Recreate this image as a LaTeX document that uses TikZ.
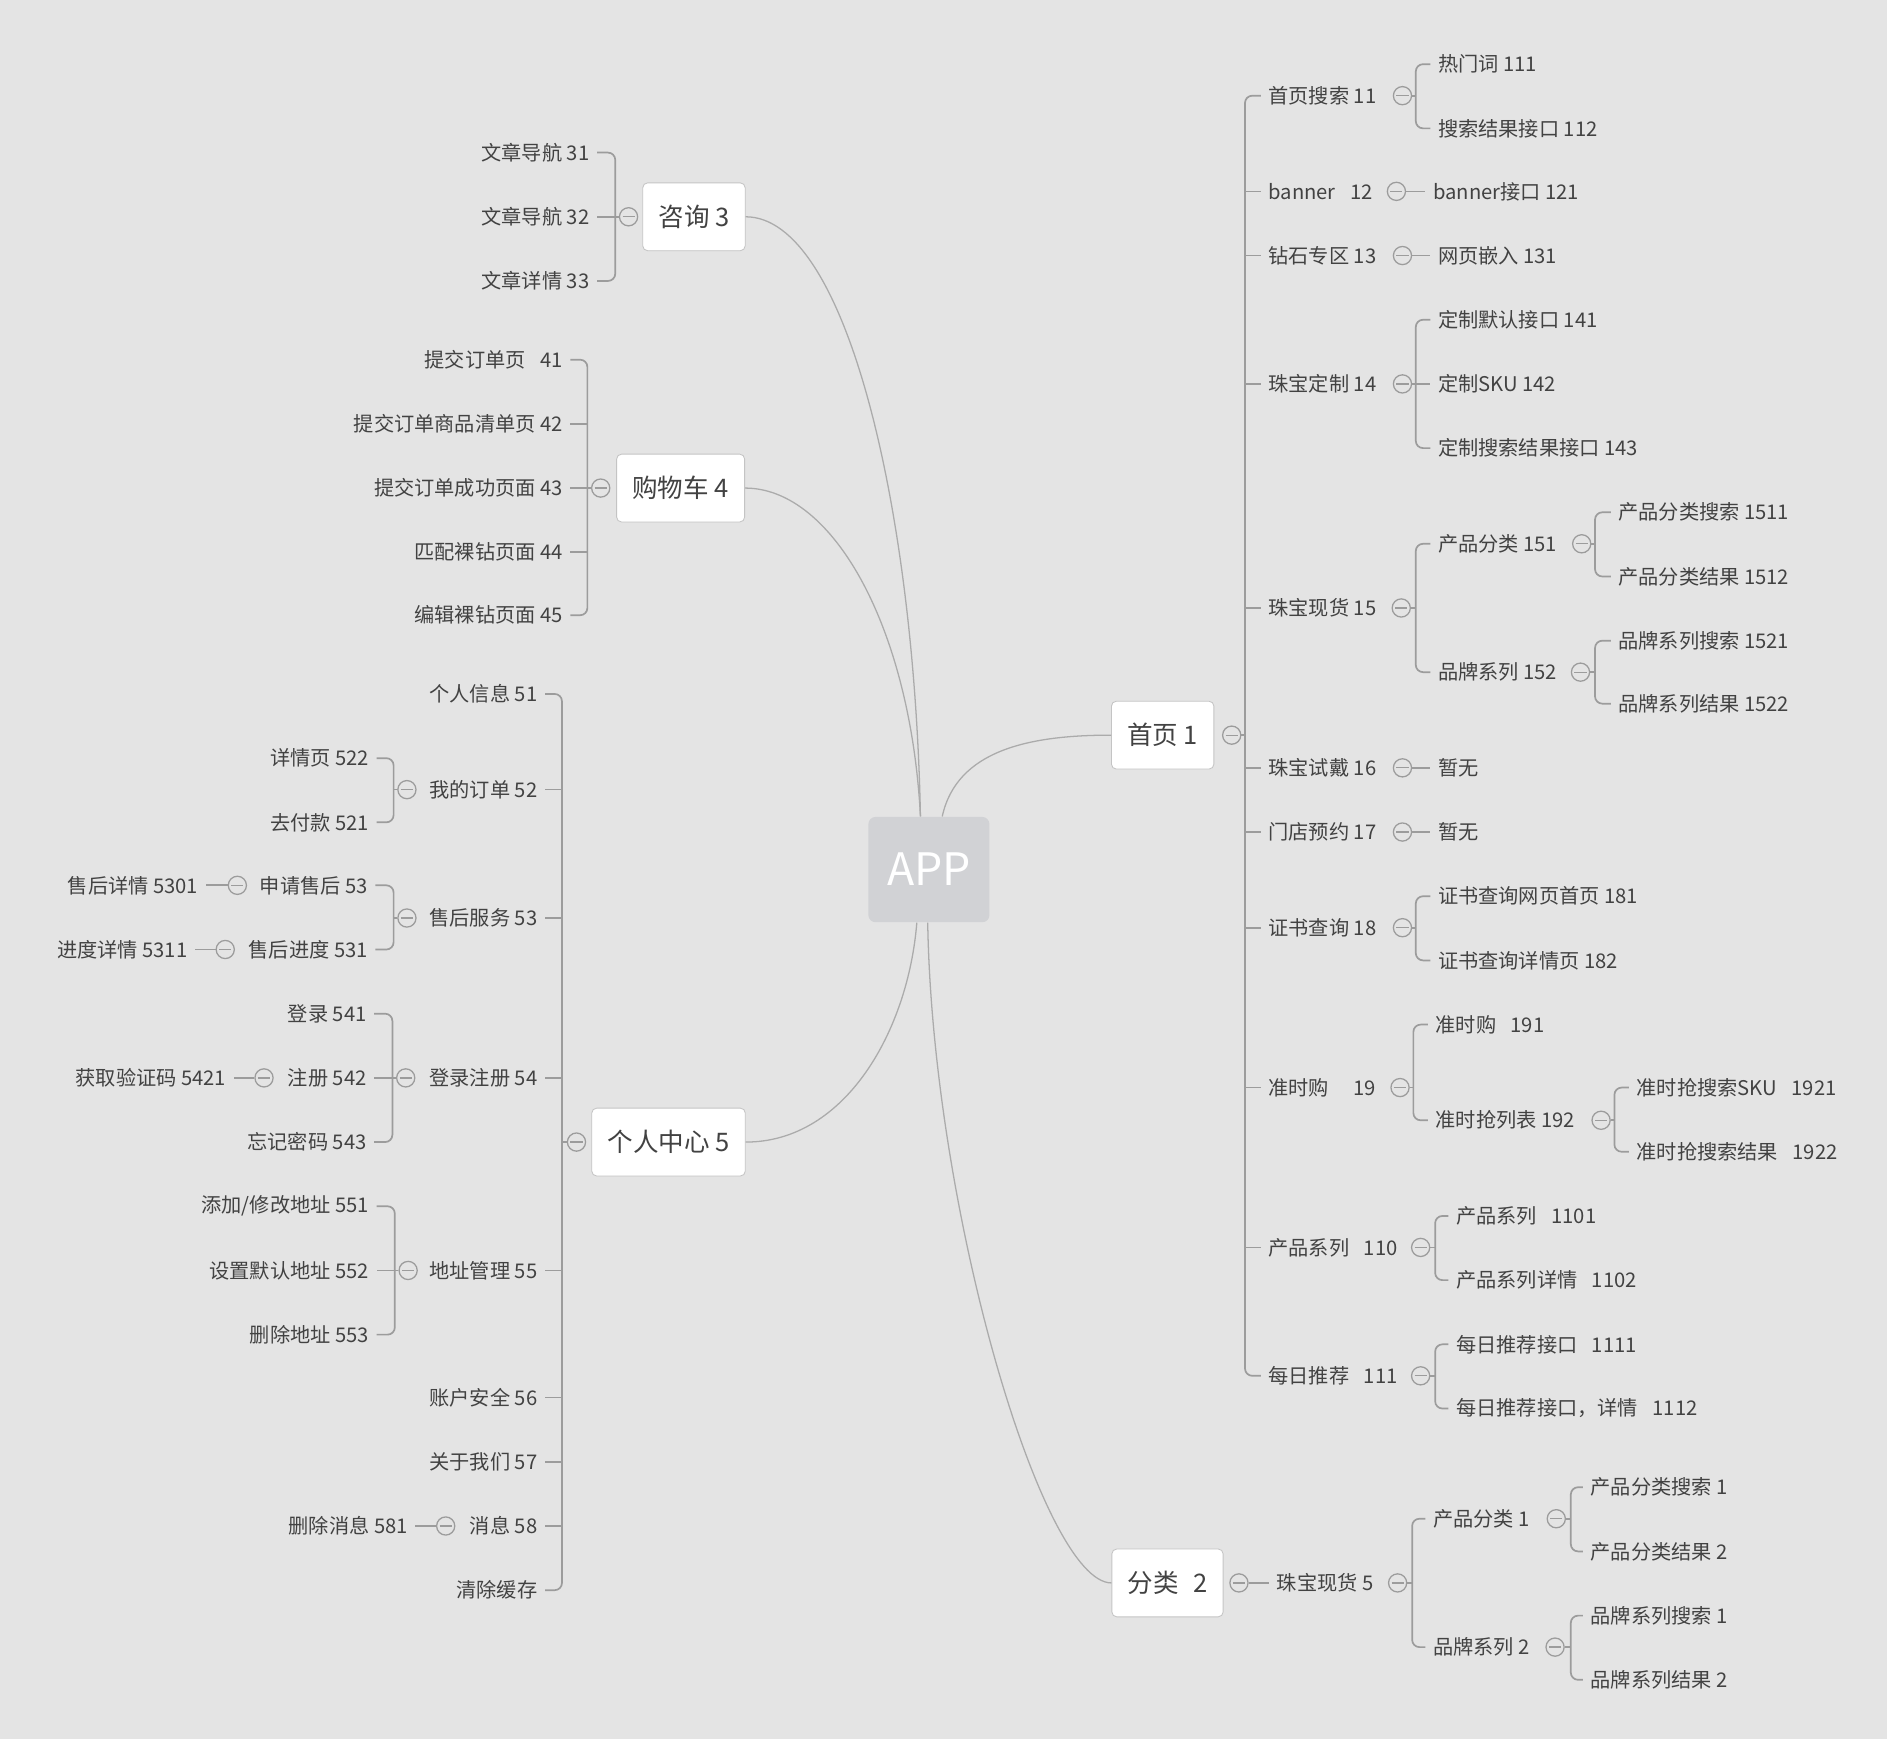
\documentclass[tikz,border=0pt]{standalone}
\usepackage{fontspec}
\setmainfont{Noto Sans CJK SC}
\usepackage{xcolor}
\usepackage{tikz}
\usetikzlibrary{calc}

\definecolor{bg}{HTML}{E4E4E4}
\definecolor{ink}{HTML}{424242}
\definecolor{wire}{HTML}{9C9C9C}
\definecolor{appgray}{HTML}{D1D2D5}
\newcommand{\wsp}{\hspace{0.24cm}}

\begin{document}
\begin{tikzpicture}[x=0.02cm, y=-0.02cm,
        leaf/.style={text=ink, font=\fontsize{9.5}{11}\selectfont, inner xsep=0.12cm, inner ysep=0.05cm},
        topic/.style={draw=wire!60, fill=white, rounded corners=0.08cm, text=ink,
            font=\fontsize{12}{14}\selectfont, minimum height=1.12cm, inner xsep=0.26cm},
        root/.style={fill=appgray, rounded corners=0.12cm, text=white,
            font=\fontsize{21}{24}\selectfont, minimum width=2cm, minimum height=1.74cm},
        fold/.style={circle, draw=wire, line width=0.6pt, minimum size=0.3cm, inner sep=0pt,
            path picture={\draw[wire, line width=0.6pt]
              ([xshift=-0.1cm]path picture bounding box.center) -- ([xshift=0.1cm]path picture bounding box.center);}},
        link/.style={draw=wire, line width=0.8pt},
        bracket/.style={link, rounded corners=0.12cm},
        curve/.style={draw=wire!85, line width=0.6pt}]
    \useasboundingbox (0,0) rectangle (1568,1446);
    \fill[white] (0,0) rectangle (1568,1446);
    \fill[bg] (0,0) rectangle (1558,1436);

    % centre and main topics
    \node[root] (app) at (767,718) {APP};
    \node[topic] (t1) at (960,607) {首页 1};
    \node[topic] (t2) at (964,1307) {分类\wsp2};
    \node[topic] (t3) at (573,179) {咨询 3};
    \node[topic] (t4) at (562,403) {购物车 4};
    \node[topic] (t5) at (552,943) {个人中心 5};

    \draw[curve] (t3.east) .. controls +(83,0) and +(-5,-255) .. ($(app.north)+(-7,0)$);
    \draw[curve] (t4.east) .. controls +(73,0) and +(-8,-155) .. ($(app.north)+(-7,0)$);
    \draw[curve] (t5.east) .. controls +(83,0) and +(-7,88) .. ($(app.south)+(-10,0)$);
    \draw[curve] (t1.west) .. controls +(-67,0) and +(12,-55) .. ($(app.north)+(11,0)$);
    \draw[curve] (t2.west) .. controls +(-57,0) and +(4,238) .. ($(app.south)+(-1,0)$);

    % 首页 1
    \node[fold] (f1) at (1017,607) {};
    \coordinate (s1) at (1028,607);
    \node[leaf, anchor=west] (p11) at (1041,79) {首页搜索 11};
    \node[leaf, anchor=west] (p12) at (1041,158) {banner\wsp12};
    \node[leaf, anchor=west] (p13) at (1041,211) {钻石专区 13};
    \node[leaf, anchor=west] (p14) at (1041,317) {珠宝定制 14};
    \node[leaf, anchor=west] (p15) at (1041,502) {珠宝现货 15};
    \node[leaf, anchor=west] (p16) at (1041,634) {珠宝试戴 16};
    \node[leaf, anchor=west] (p17) at (1041,687) {门店预约 17};
    \node[leaf, anchor=west] (p18) at (1041,766) {证书查询 18};
    \node[leaf, anchor=west] (p19) at (1041,898) {准时购\hspace{0.4cm}19};
    \node[leaf, anchor=west] (p110) at (1041,1030) {产品系列\wsp110};
    \node[leaf, anchor=west] (p111) at (1041,1136) {每日推荐\wsp111};
    \draw[link] (f1) -- (s1);
    \draw[bracket] (p11.west) -| (s1) |- (p111.west);
    \foreach \n in {p12,p13,p14,p15,p16,p17,p18,p19,p110}
        \draw[link] (\n.west) -- (\n.west -| s1);

    \node[fold] (fp11) at (1158,79) {};
    \coordinate (sp11) at (1169,79);
    \node[leaf, anchor=west] (q111) at (1181,53) {热门词 111};
    \node[leaf, anchor=west] (q112) at (1181,106) {搜索结果接口 112};
    \draw[link] (fp11) -- (sp11);
    \draw[bracket] (q111.west) -| (sp11) |- (q112.west);

    \node[fold] (fp12) at (1153,158) {};
    \node[leaf, anchor=west] (q121) at (1177,158) {banner接口 121};
    \draw[link] (fp12) -- (q121);

    \node[fold] (fp13) at (1158,211) {};
    \node[leaf, anchor=west] (q131) at (1181,211) {网页嵌入 131};
    \draw[link] (fp13) -- (q131);

    \node[fold] (fp14) at (1158,317) {};
    \coordinate (sp14) at (1169,317);
    \node[leaf, anchor=west] (q141) at (1181,264) {定制默认接口 141};
    \node[leaf, anchor=west] (q142) at (1181,317) {定制SKU 142};
    \node[leaf, anchor=west] (q143) at (1181,370) {定制搜索结果接口 143};
    \draw[link] (fp14) -- (q142);
    \draw[bracket] (q141.west) -| (sp14) |- (q143.west);

    \node[fold] (fp15) at (1157,502) {};
    \coordinate (sp15) at (1169,502);
    \node[leaf, anchor=west] (q151) at (1181,449) {产品分类 151};
    \node[leaf, anchor=west] (q152) at (1181,555) {品牌系列 152};
    \draw[link] (fp15) -- (sp15);
    \draw[bracket] (q151.west) -| (sp15) |- (q152.west);

    \node[fold] (fq151) at (1306,449) {};
    \coordinate (sq151) at (1317,449);
    \node[leaf, anchor=west] (r1511) at (1330,423) {产品分类搜索 1511};
    \node[leaf, anchor=west] (r1512) at (1330,476) {产品分类结果 1512};
    \draw[link] (fq151) -- (sq151);
    \draw[bracket] (r1511.west) -| (sq151) |- (r1512.west);

    \node[fold] (fq152) at (1305,555) {};
    \coordinate (sq152) at (1317,555);
    \node[leaf, anchor=west] (r1521) at (1330,529) {品牌系列搜索 1521};
    \node[leaf, anchor=west] (r1522) at (1330,581) {品牌系列结果 1522};
    \draw[link] (fq152) -- (sq152);
    \draw[bracket] (r1521.west) -| (sq152) |- (r1522.west);

    \node[fold] (fp16) at (1158,634) {};
    \node[leaf, anchor=west] (q16) at (1181,634) {暂无};
    \draw[link] (fp16) -- (q16);

    \node[fold] (fp17) at (1158,687) {};
    \node[leaf, anchor=west] (q17) at (1181,687) {暂无};
    \draw[link] (fp17) -- (q17);

    \node[fold] (fp18) at (1158,766) {};
    \coordinate (sp18) at (1169,766);
    \node[leaf, anchor=west] (q181) at (1181,740) {证书查询网页首页 181};
    \node[leaf, anchor=west] (q182) at (1181,793) {证书查询详情页 182};
    \draw[link] (fp18) -- (sp18);
    \draw[bracket] (q181.west) -| (sp18) |- (q182.west);

    \node[fold] (fp19) at (1156,898) {};
    \coordinate (sp19) at (1167,898);
    \node[leaf, anchor=west] (q191) at (1179,846) {准时购\wsp191};
    \node[leaf, anchor=west] (q192) at (1179,925) {准时抢列表 192};
    \draw[link] (fp19) -- (sp19);
    \draw[bracket] (q191.west) -| (sp19) |- (q192.west);

    \node[fold] (fq192) at (1322,925) {};
    \coordinate (sq192) at (1333,925);
    \node[leaf, anchor=west] (r1921) at (1345,898) {准时抢搜索SKU\wsp1921};
    \node[leaf, anchor=west] (r1922) at (1345,951) {准时抢搜索结果\wsp1922};
    \draw[link] (fq192) -- (sq192);
    \draw[bracket] (r1921.west) -| (sq192) |- (r1922.west);

    \node[fold] (fp110) at (1173,1030) {};
    \coordinate (sp110) at (1185,1030);
    \node[leaf, anchor=west] (q1101) at (1196,1004) {产品系列\wsp1101};
    \node[leaf, anchor=west] (q1102) at (1196,1057) {产品系列详情\wsp1102};
    \draw[link] (fp110) -- (sp110);
    \draw[bracket] (q1101.west) -| (sp110) |- (q1102.west);

    \node[fold] (fp111) at (1173,1136) {};
    \coordinate (sp111) at (1185,1136);
    \node[leaf, anchor=west] (q1111) at (1196,1110) {每日推荐接口\wsp1111};
    \node[leaf, anchor=west] (q1112) at (1196,1163) {每日推荐接口，详情\wsp1112};
    \draw[link] (fp111) -- (sp111);
    \draw[bracket] (q1111.west) -| (sp111) |- (q1112.west);

    % 分类 2
    \node[fold] (f2) at (1023,1307) {};
    \node[leaf, anchor=west] (c5) at (1048,1307) {珠宝现货 5};
    \draw[link] (f2) -- (c5);
    \node[fold] (fc5) at (1154,1307) {};
    \coordinate (sc5) at (1166,1307);
    \node[leaf, anchor=west] (d1) at (1177,1254) {产品分类 1};
    \node[leaf, anchor=west] (d2) at (1177,1360) {品牌系列 2};
    \draw[link] (fc5) -- (sc5);
    \draw[bracket] (d1.west) -| (sc5) |- (d2.west);

    \node[fold] (fd1) at (1285,1254) {};
    \coordinate (sd1) at (1297,1254);
    \node[leaf, anchor=west] (e11) at (1307,1228) {产品分类搜索 1};
    \node[leaf, anchor=west] (e12) at (1307,1281) {产品分类结果 2};
    \draw[link] (fd1) -- (sd1);
    \draw[bracket] (e11.west) -| (sd1) |- (e12.west);

    \node[fold] (fd2) at (1284,1360) {};
    \coordinate (sd2) at (1297,1360);
    \node[leaf, anchor=west] (e21) at (1307,1334) {品牌系列搜索 1};
    \node[leaf, anchor=west] (e22) at (1307,1387) {品牌系列结果 2};
    \draw[link] (fd2) -- (sd2);
    \draw[bracket] (e21.west) -| (sd2) |- (e22.west);

    % 咨询 3
    \node[fold] (f3) at (519,179) {};
    \coordinate (s3) at (508,179);
    \node[leaf, anchor=east] (k31) at (493,126) {文章导航 31};
    \node[leaf, anchor=east] (k32) at (493,179) {文章导航 32};
    \node[leaf, anchor=east] (k33) at (493,232) {文章详情 33};
    \draw[link] (f3) -- (k32);
    \draw[bracket] (k31.east) -| (s3) |- (k33.east);

    % 购物车 4
    \node[fold] (f4) at (496,403) {};
    \coordinate (s4) at (485,403);
    \node[leaf, anchor=east] (g41) at (471,297) {提交订单页\wsp41};
    \node[leaf, anchor=east] (g42) at (471,350) {提交订单商品清单页 42};
    \node[leaf, anchor=east] (g43) at (471,403) {提交订单成功页面 43};
    \node[leaf, anchor=east] (g44) at (471,456) {匹配裸钻页面 44};
    \node[leaf, anchor=east] (g45) at (471,508) {编辑裸钻页面 45};
    \draw[link] (f4) -- (g43);
    \draw[bracket] (g41.east) -| (s4) |- (g45.east);
    \foreach \n in {g42,g44}
        \draw[link] (\n.east) -- (\n.east -| s4);

    % 个人中心 5
    \node[fold] (f5) at (476,943) {};
    \coordinate (s5) at (464,943);
    \node[leaf, anchor=east] (u51) at (450,573) {个人信息 51};
    \node[leaf, anchor=east] (u52) at (450,652) {我的订单 52};
    \node[leaf, anchor=east] (u53) at (450,758) {售后服务 53};
    \node[leaf, anchor=east] (u54) at (450,890) {登录注册 54};
    \node[leaf, anchor=east] (u55) at (450,1049) {地址管理 55};
    \node[leaf, anchor=east] (u56) at (450,1154) {账户安全 56};
    \node[leaf, anchor=east] (u57) at (450,1207) {关于我们 57};
    \node[leaf, anchor=east] (u58) at (450,1260) {消息 58};
    \node[leaf, anchor=east] (u5c) at (450,1313) {清除缓存};
    \draw[link] (f5) -- (s5);
    \draw[bracket] (u51.east) -| (s5) |- (u5c.east);
    \foreach \n in {u52,u53,u54,u55,u56,u57,u58}
        \draw[link] (\n.east) -- (\n.east -| s5);

    \node[fold] (fu52) at (336,652) {};
    \coordinate (su52) at (325,652);
    \node[leaf, anchor=east] (v522) at (311,626) {详情页 522};
    \node[leaf, anchor=east] (v521) at (311,679) {去付款 521};
    \draw[link] (fu52) -- (su52);
    \draw[bracket] (v522.east) -| (su52) |- (v521.east);

    \node[fold] (fu53) at (336,758) {};
    \coordinate (su53) at (325,758);
    \node[leaf, anchor=east] (v53) at (310,731) {申请售后 53};
    \node[leaf, anchor=east] (v531) at (310,784) {售后进度 531};
    \draw[link] (fu53) -- (su53);
    \draw[bracket] (v53.east) -| (su53) |- (v531.east);

    \node[fold] (fv53) at (196,731) {};
    \node[leaf, anchor=east] (w5301) at (170,731) {售后详情 5301};
    \draw[link] (fv53) -- (w5301);
    \node[fold] (fv531) at (186,784) {};
    \node[leaf, anchor=east] (w5311) at (161,784) {进度详情 5311};
    \draw[link] (fv531) -- (w5311);

    \node[fold] (fu54) at (335,890) {};
    \coordinate (su54) at (324,890);
    \node[leaf, anchor=east] (v541) at (309,837) {登录 541};
    \node[leaf, anchor=east] (v542) at (309,890) {注册 542};
    \node[leaf, anchor=east] (v543) at (309,943) {忘记密码 543};
    \draw[link] (fu54) -- (v542);
    \draw[bracket] (v541.east) -| (su54) |- (v543.east);

    \node[fold] (fv542) at (218,890) {};
    \node[leaf, anchor=east] (w5421) at (193,890) {获取验证码 5421};
    \draw[link] (fv542) -- (w5421);

    \node[fold] (fu55) at (337,1049) {};
    \coordinate (su55) at (326,1049);
    \node[leaf, anchor=east] (v551) at (311,996) {添加/修改地址 551};
    \node[leaf, anchor=east] (v552) at (311,1049) {设置默认地址 552};
    \node[leaf, anchor=east] (v553) at (311,1102) {删除地址 553};
    \draw[link] (fu55) -- (v552);
    \draw[bracket] (v551.east) -| (su55) |- (v553.east);

    \node[fold] (fu58) at (368,1260) {};
    \node[leaf, anchor=east] (v581) at (343,1260) {删除消息 581};
    \draw[link] (fu58) -- (v581);
\end{tikzpicture}
\end{document}
